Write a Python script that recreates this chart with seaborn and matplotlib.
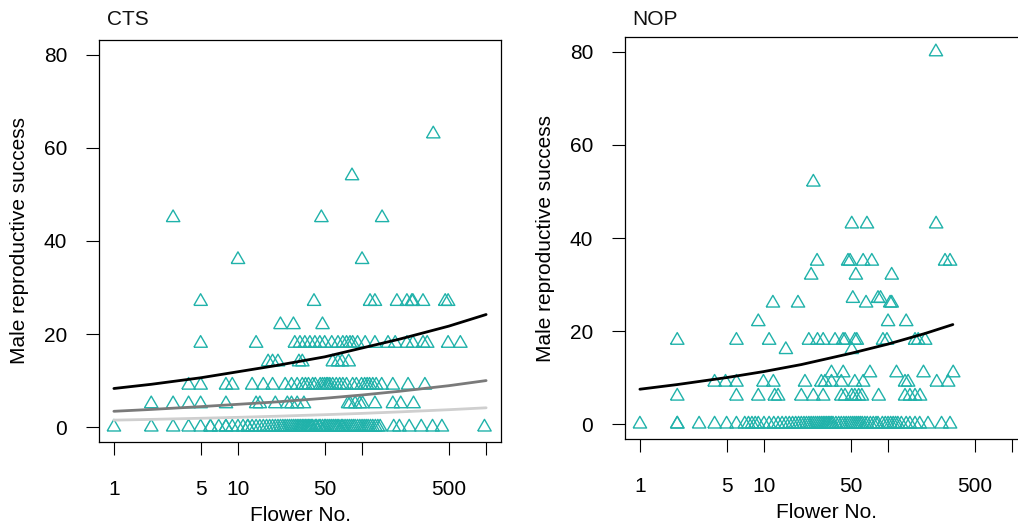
import numpy as np
import pandas as pd
import matplotlib
matplotlib.use("Agg")
import matplotlib.pyplot as plt
import seaborn as sns

sns.set_style("ticks")
plt.rcParams["font.family"] = ["Liberation Sans", "DejaVu Sans"]
plt.rcParams["text.color"] = "black"
plt.rcParams["axes.labelcolor"] = "black"

# flower numbers per reproductive-success level
cts_rows = {
    0: [1, 2, 3, 4, 5, 6, 6, 7, 8, 8, 9, 10, 11, 12, 12, 13, 14, 15, 16, 17, 18, 19,
        20, 21, 22, 23, 24, 25, 26, 27, 28, 29, 30, 31, 32, 33, 34, 35, 36, 37, 38, 39,
        40, 42, 43, 45, 46, 48, 50, 51, 53, 55, 57, 59, 61, 63, 65, 68, 70, 73, 76, 79,
        82, 85, 88, 92, 96, 100, 104, 108, 112, 117, 122, 128, 134, 140, 180, 200, 240,
        300, 370, 440, 970],
    5: [2, 3, 4, 5, 8, 14, 15, 20, 25, 27, 30, 34, 77, 80, 88, 96, 101, 127, 177, 205, 260],
    9: [4, 5, 8, 9, 13, 16, 19, 24, 27, 30, 33, 35, 37, 40, 42, 46, 48, 50, 52, 53, 55,
        58, 62, 66, 70, 75, 84, 90, 99, 105, 110, 115, 122, 130, 144, 177, 235, 321],
    14: [17.5, 19, 21, 31, 33, 58, 64, 69, 78],
    18: [5, 14, 28.7, 31.6, 34.6, 38, 41.7, 45.7, 50, 57, 64, 70, 75, 80, 84, 92, 106,
         127, 162, 185, 230, 257, 310, 335, 494, 620],
    22: [22, 28, 48],
    27: [5, 41, 116, 127, 191, 230, 252, 257, 310, 468, 494],
    36: [10, 100],
    45: [3, 47, 145],
    54: [83],
    63: [375],
}

nop_rows = {
    0: [1, 2, 2, 3, 4, 5, 6, 7, 7.5, 8, 8.5, 9, 10, 11, 12, 13, 14, 15, 16, 17, 18, 19,
        20, 21, 22, 23, 24, 25, 26, 27, 28, 29, 30, 31, 32, 33, 34, 35, 36, 38, 40, 42,
        44, 46, 48, 50, 52, 54, 56, 58, 60, 62, 65, 68, 72, 76, 80, 83, 90, 95, 100, 105,
        110, 115, 120, 128, 140, 150, 165, 180, 210, 270, 316],
    6: [2, 6, 9, 12.2, 13, 20, 25, 30, 42, 45, 51, 54, 58, 61.5, 84, 137, 150, 165, 181],
    9: [4, 4.9, 6, 9.9, 11.9, 21.4, 29, 31, 35, 42, 54, 63, 137, 145, 247, 305],
    11: [35, 43.5, 71.5, 117, 193, 335],
    16: [15, 51],
    18: [2, 6, 11, 23, 27, 30, 37.4, 43.4, 45, 54, 56, 91, 98, 165, 175, 199],
    22: [9, 100, 140],
    26: [11.8, 18.8, 66.5, 104, 107],
    27: [52, 83, 87],
    32: [24, 55, 107],
    35: [26.8, 47.6, 49.4, 63, 74, 288, 316],
    43: [51, 67.6, 244],
    52: [25],
    80: [243],
}

# fitted curves, values
cts_curve_x = [1, 2, 5, 10, 20, 50, 100, 200, 500, 1000]
cts_fit_high = [8.3, 9.2, 10.6, 11.9, 13.2, 15.1, 17.0, 18.9, 21.7, 24.2]
cts_fit_mid = [3.4, 3.8, 4.4, 4.9, 5.4, 6.2, 6.9, 7.7, 8.9, 10.0]
cts_fit_low = [1.5, 1.66, 1.9, 2.1, 2.33, 2.67, 2.95, 3.27, 3.74, 4.15]

nop_curve_x = [1, 2, 5, 10, 20, 50, 100, 200, 333]
nop_fit = [7.5, 8.5, 10.0, 11.3, 12.8, 15.2, 17.2, 19.5, 21.4]

x_ticks = [1, 5, 10, 50, 100, 500, 1000]
x_tick_labels = ["1", "5", "10", "50", "", "500", ""]
y_ticks = [0, 20, 40, 60, 80]

teal = "#20B2AA"
# equilateral open triangle like R's pch = 2
tri = [(-1, -0.577), (1, -0.577), (0, 1.155), (-1, -0.577)]


def rows_to_frame(rows):
    recs = [(f, s) for s, flowers in rows.items() for f in flowers]
    return pd.DataFrame(recs, columns=["flowers", "success"])


def style_axis(ax, title, title_y):
    ax.set_xscale("log")
    ax.set_xlim(10 ** -0.12, 10 ** 3.12)
    ax.set_ylim(-3.2, 83.2)
    ax.set_xticks(x_ticks)
    ax.set_xticklabels(x_tick_labels)
    ax.xaxis.set_minor_locator(matplotlib.ticker.NullLocator())
    ax.set_yticks(y_ticks)
    ax.tick_params(axis="both", direction="out", length=9.4, width=0.8,
                   labelsize=15, colors="black")
    ax.tick_params(axis="x", pad=18)
    ax.tick_params(axis="y", pad=13.5)
    for sp in ax.spines.values():
        sp.set_visible(True)
        sp.set_linewidth(0.9)
        sp.set_color("black")
    ax.set_xlabel("Flower No.", fontsize=15, va="center", color="black")
    ax.xaxis.set_label_coords(0.5, -0.1816)
    ax.set_ylabel("Male reproductive success", fontsize=15, va="center", color="black")
    ax.yaxis.set_label_coords(-0.198, 0.5)
    ax.text(0.019, title_y, title, transform=ax.transAxes, fontsize=15,
            ha="left", va="center", color="#111111")


fig = plt.figure(figsize=(10.18, 5.30), dpi=100)
ax1 = fig.add_axes([99 / 1018, 88 / 530, 402 / 1018, 402 / 530])
ax2 = fig.add_axes([625 / 1018, 91 / 530, 402 / 1018, 402 / 530])

cts = rows_to_frame(cts_rows)
nop = rows_to_frame(nop_rows)

for ax, df in [(ax1, cts), (ax2, nop)]:
    sns.scatterplot(data=df, x="flowers", y="success", ax=ax, marker=tri, s=125,
                    color=teal, facecolor="none", edgecolor=teal, linewidth=1.0,
                    legend=False, zorder=2)

sns.lineplot(x=cts_curve_x, y=cts_fit_low, ax=ax1, color="#cfcfcf", linewidth=2.0, zorder=3)
sns.lineplot(x=cts_curve_x, y=cts_fit_mid, ax=ax1, color="#7a7a7a", linewidth=2.0, zorder=3)
sns.lineplot(x=cts_curve_x, y=cts_fit_high, ax=ax1, color="black", linewidth=2.0, zorder=3)
sns.lineplot(x=nop_curve_x, y=nop_fit, ax=ax2, color="black", linewidth=2.0, zorder=3)

style_axis(ax1, "CTS", 1.051)
style_axis(ax2, "NOP", 1.044)

fig.savefig("out.png", dpi=100)
